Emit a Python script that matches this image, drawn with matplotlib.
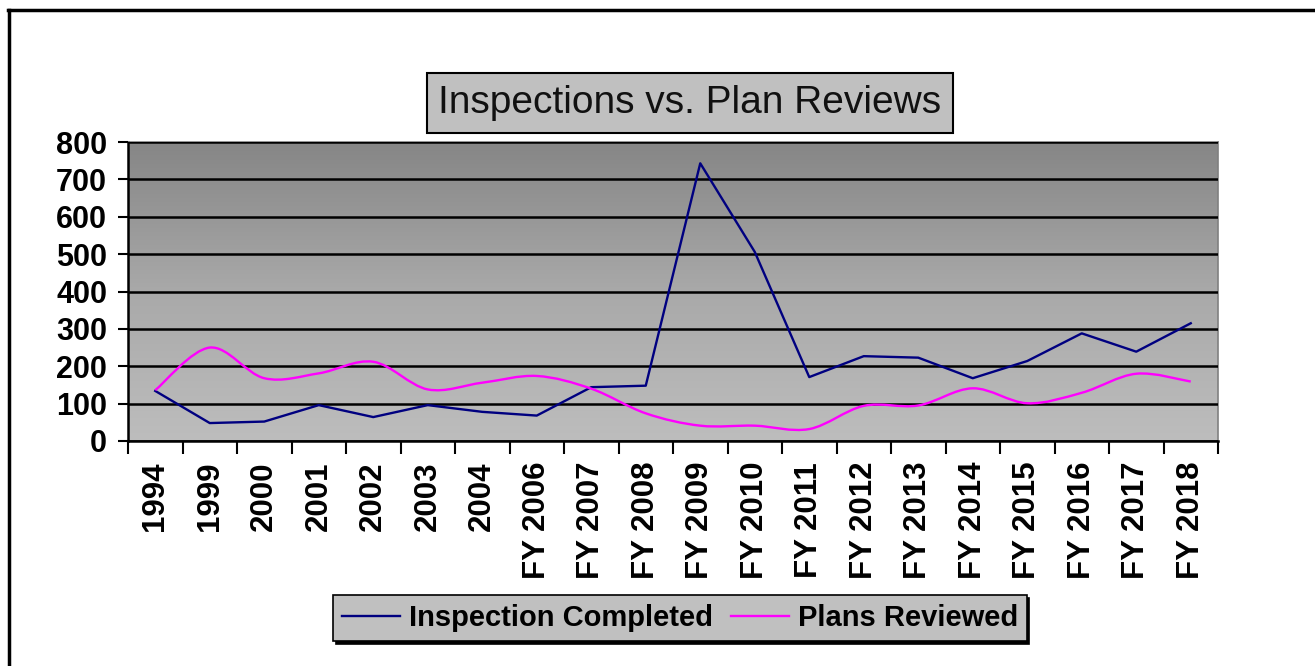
import numpy as np
import matplotlib.pyplot as plt
from matplotlib.path import Path
from matplotlib.patches import PathPatch
from matplotlib.colors import LinearSegmentedColormap
from matplotlib.lines import Line2D

plt.rcParams['font.family'] = ['Liberation Sans', 'DejaVu Sans']

# data
years = ['1994', '1999', '2000', '2001', '2002', '2003', '2004', 'FY 2006',
         'FY 2007', 'FY 2008', 'FY 2009', 'FY 2010', 'FY 2011', 'FY 2012',
         'FY 2013', 'FY 2014', 'FY 2015', 'FY 2016', 'FY 2017', 'FY 2018']
inspections = [134, 48, 52, 96, 64, 96, 78, 68, 144, 148,
               743, 506, 171, 227, 223, 168, 214, 288, 239, 315]
plans = [136, 250, 168, 181, 212, 138, 156, 174, 140, 74,
         41, 41, 32, 94, 95, 141, 101, 129, 180, 159]

navy = '#000080'
magenta = '#FF00FF'


def smooth_path(xs, ys):
    # Bezier curves through the points (like Excel's "smoothed line")
    pts = np.column_stack([xs, ys]).astype(float)
    verts = [pts[0]]
    codes = [Path.MOVETO]
    n = len(pts)
    for i in range(n - 1):
        p0 = pts[i - 1] if i > 0 else pts[i]
        p1 = pts[i]
        p2 = pts[i + 1]
        p3 = pts[i + 2] if i + 2 < n else pts[i + 1]
        c1 = p1 + (p2 - p0) / 6.0
        c2 = p2 - (p3 - p1) / 6.0
        verts += [c1, c2, p2]
        codes += [Path.CURVE4] * 3
    return Path(verts, codes)


fig = plt.figure(figsize=(13.15, 6.66), dpi=100)
ax = fig.add_axes([128 / 1315, 1 - 441 / 666, 1090 / 1315, 299 / 666])

x = np.arange(len(years))
ax.set_xlim(-0.5, len(years) - 0.5)
ax.set_ylim(0, 800)

# gradient background of the plot area
cmap = LinearSegmentedColormap.from_list('bg', ['#bdbdbd', '#a9a9a9', '#868686'])
grad = np.linspace(0, 1, 256).reshape(-1, 1)
ax.imshow(grad, aspect='auto', cmap=cmap, origin='lower',
          extent=[-0.5, len(years) - 0.5, 0, 800], zorder=0)

ax.set_yticks(range(0, 801, 100))
ax.yaxis.grid(True, color='black', linewidth=1.8, zorder=1)
ax.set_axisbelow(False)

ax.plot(x, inspections, color=navy, linewidth=1.7, zorder=3)
ax.add_patch(PathPatch(smooth_path(x, plans), facecolor='none',
                       edgecolor=magenta, linewidth=1.7, zorder=3))

ax.set_xticks(x)
ax.set_xticklabels(years, rotation=90, fontsize=22.5, fontweight='bold')
ax.set_xticks(np.arange(-0.5, len(years), 1), minor=True)
ax.tick_params(axis='x', which='major', length=0, pad=15)
ax.tick_params(axis='x', which='minor', length=9, width=1.5, direction='out')
ax.tick_params(axis='y', length=7, width=1.5, direction='out', labelsize=22, pad=8)
for lab in ax.get_yticklabels():
    lab.set_fontweight('bold')

for s in ['left', 'bottom']:
    ax.spines[s].set_color('black')
    ax.spines[s].set_linewidth(1.8)
for s in ['top', 'right']:
    ax.spines[s].set_color('#808080')
    ax.spines[s].set_linewidth(1.2)

# title box
fig.text(690 / 1315, 1 - 103 / 666, 'Inspections vs. Plan Reviews',
         fontsize=28, ha='center', va='center', color='#111111',
         bbox=dict(boxstyle='square,pad=0.3', facecolor='#c0c0c0',
                   edgecolor='black', linewidth=1.5))

# legend
handles = [Line2D([], [], color=navy, linewidth=1.7),
           Line2D([], [], color=magenta, linewidth=1.7)]
leg = fig.legend(handles, ['Inspection Completed', 'Plans Reviewed'],
                 loc='center', bbox_to_anchor=(680 / 1315, 1 - 618 / 666),
                 ncol=2, fancybox=False, frameon=True, framealpha=1,
                 facecolor='#c0c0c0', edgecolor='black',
                 prop=dict(size=21, weight='bold'),
                 handlelength=2.0, handletextpad=0.3, columnspacing=0.6,
                 borderpad=0.3, shadow=dict(color='black', alpha=1))
leg.get_frame().set_linewidth(1.2)

# outer chart border (top and left edges visible)
fig.add_artist(Line2D([8 / 1315, 1], [1 - 10 / 666, 1 - 10 / 666],
                      transform=fig.transFigure, color='black', linewidth=2.5))
fig.add_artist(Line2D([9 / 1315, 9 / 1315], [0, 1 - 10 / 666],
                      transform=fig.transFigure, color='black', linewidth=2.5))

fig.savefig('out.png', dpi=100, facecolor='white')
